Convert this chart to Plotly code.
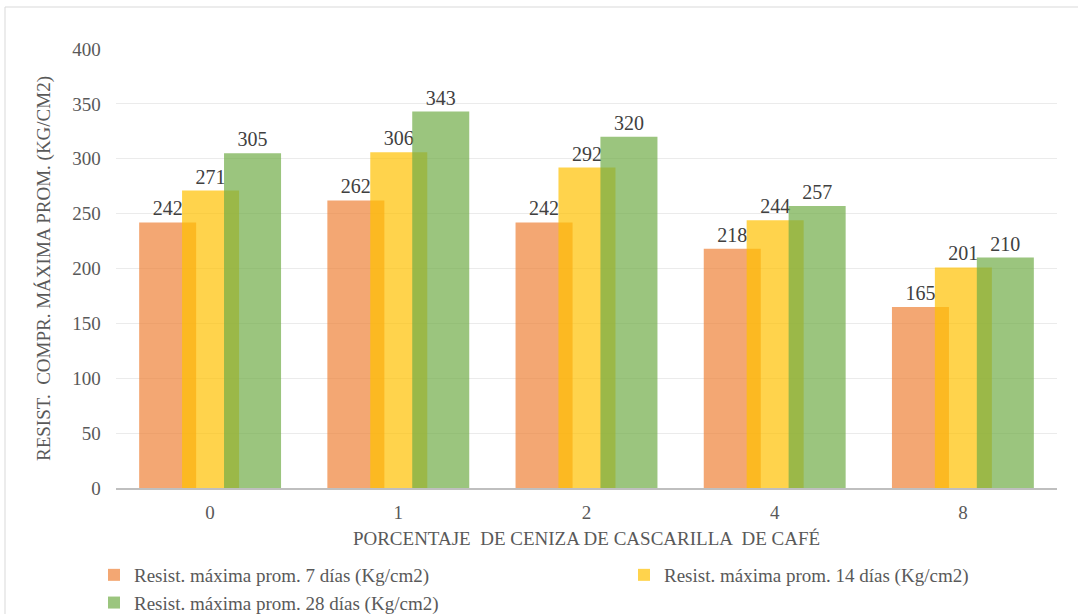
import plotly.graph_objects as go

# Percentage of coffee husk ash and average max compressive strength (kg/cm2)
categorias = ["0", "1", "2", "4", "8"]
resist_7d = [242, 262, 242, 218, 165]
resist_14d = [271, 306, 292, 244, 201]
resist_28d = [305, 343, 320, 257, 210]

nombres = [
    "Resist. máxima prom. 7 días (Kg/cm2)",
    "Resist. máxima prom. 14 días (Kg/cm2)",
    "Resist. máxima prom. 28 días (Kg/cm2)",
]
colores = ["rgba(237,125,49,0.68)", "rgba(255,192,0,0.70)", "rgba(112,173,71,0.70)"]
offsets = [-0.377, -0.149, 0.074]
ancho = 0.303

W, H = 1078, 614
ML, MR, MT, MB = 116, 21, 49, 126
FONT = "Liberation Serif"

fig = go.Figure()
for serie, nombre, color, off in zip([resist_7d, resist_14d, resist_28d], nombres, colores, offsets):
    fig.add_trace(go.Bar(
        x=categorias, y=serie, name=nombre,
        marker=dict(color=color, line=dict(width=0)),
        width=ancho, offset=off,
        text=[str(v) for v in serie], textposition="outside",
        textfont=dict(family=FONT, size=20, color="#404040"),
        cliponaxis=False,
    ))

pw = W - ML - MR
ph = H - MT - MB
def px_x(x):
    return (x - ML) / pw
def px_y(y):
    return (H - MB - y) / ph

fig.update_layout(
    width=W, height=H,
    margin=dict(l=ML, r=MR, t=MT, b=MB, autoexpand=False),
    barmode="overlay",
    plot_bgcolor="white", paper_bgcolor="white",
    font=dict(family=FONT, color="#595959", size=18),
    showlegend=True,
    legend=dict(
        orientation="h", xref="paper", yref="paper",
        x=px_x(94), xanchor="left", y=px_y(556), yanchor="top",
        font=dict(family=FONT, size=19, color="#595959"),
        entrywidth=485, entrywidthmode="pixels",
        traceorder="normal", tracegroupgap=0,
        itemwidth=30,
    ),
    xaxis=dict(
        type="category", showgrid=False,
        showline=True, linecolor="#BFBFBF", linewidth=2,
        ticks="", tickfont=dict(family=FONT, size=19, color="#595959"),
        ticklabelstandoff=6,
        title=dict(text="PORCENTAJE  DE CENIZA DE CASCARILLA  DE CAFÉ",
                   font=dict(family=FONT, size=19, color="#595959"), standoff=10),
    ),
    yaxis=dict(
        range=[0, 400], dtick=50, showgrid=True, gridcolor="#EBEBEB", gridwidth=1,
        zeroline=False, showline=False, ticks="",
        tickfont=dict(family=FONT, size=19, color="#595959"),
        ticksuffix="   ",
        title=dict(text="RESIST.  COMPR. MÁXIMA PROM. (KG/CM2)",
                   font=dict(family=FONT, size=19, color="#595959"), standoff=16),
    ),
    shapes=[dict(
        type="rect", xref="paper", yref="paper",
        x0=px_x(5), x1=px_x(1085), y0=px_y(620), y1=px_y(7),
        line=dict(color="#D9D9D9", width=1), fillcolor="rgba(0,0,0,0)", layer="below",
    )],
)

fig.write_html("out.html")
